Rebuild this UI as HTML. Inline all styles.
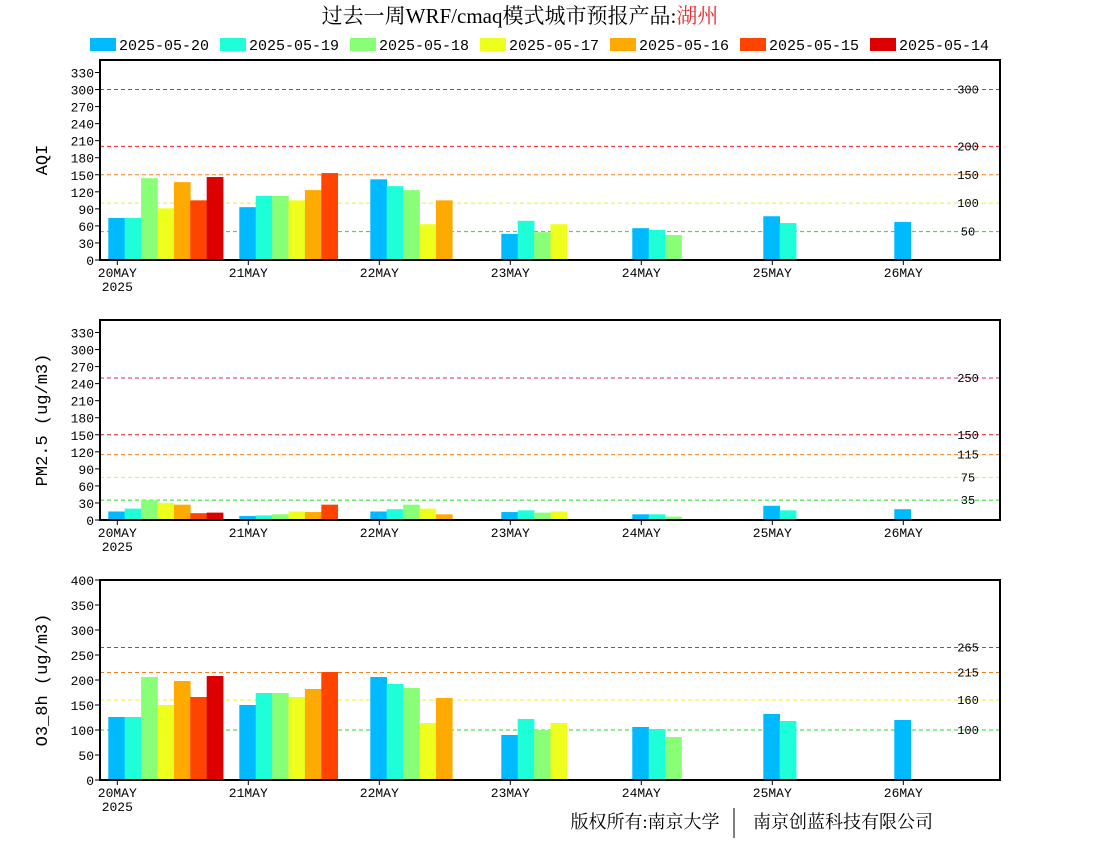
<!DOCTYPE html>
<html><head><meta charset="utf-8"><style>
body{margin:0;background:#fff;}
svg{display:block;font-family:"Liberation Mono","Noto Sans CJK SC",monospace;}
</style></head><body>
<svg id="chart" width="1100" height="850" viewBox="0 0 1100 850" xmlns="http://www.w3.org/2000/svg">
<text x="520" y="23" text-anchor="middle" font-size="21" font-family="'Liberation Serif','Noto Serif CJK SC',serif">过去一周WRF/cmaq模式城市预报产品:<tspan fill="#e83030">湖州</tspan></text>
<g id="legend"></g>
<g id="panels"></g>
<text x="645" y="828" text-anchor="middle" font-size="18" font-family="'Liberation Serif','Noto Serif CJK SC',serif">版权所有:南京大学</text>
<line x1="734" y1="808" x2="734" y2="838" stroke="#000" stroke-width="1"/>
<text x="843" y="828" text-anchor="middle" font-size="18" font-family="'Liberation Serif','Noto Serif CJK SC',serif">南京创蓝科技有限公司</text>
</svg>
<script>
const seriesNames=["2025-05-20","2025-05-19","2025-05-18","2025-05-17","2025-05-16","2025-05-15","2025-05-14"];
const seriesColors=["#00baff","#1effd9","#88ff77","#eeff1e","#ffaa00","#ff4400","#dd0000"];
const days=["20MAY","21MAY","22MAY","23MAY","24MAY","25MAY","26MAY"];
// values per series (index = day); null = no bar
const aqi=[
 [74,93,142,46,56,77,67],
 [74,113,130,69,53,65,null],
 [144,113,123,49,44,null,null],
 [91,105,63,63,null,null,null],
 [137,123,105,null,null,null,null],
 [105,153,null,null,null,null,null],
 [146,null,null,null,null,null,null]];
const pm25=[
 [15,7,15,14,10,25,19],
 [20,8,19,17,10,17,null],
 [35,10,27,13,6,null,null],
 [30,15,20,15,null,null,null],
 [27,14,10,null,null,null,null],
 [12,27,null,null,null,null,null],
 [13,null,null,null,null,null,null]];
const o3=[
 [126,150,206,90,106,132,120],
 [126,174,192,122,102,118,null],
 [206,174,184,100,86,null,null],
 [150,166,114,114,null,null,null],
 [198,182,164,null,null,null,null],
 [166,216,null,null,null,null,null],
 [208,null,null,null,null,null,null]];
const aqiTicks=[0,30,60,90,120,150,180,210,240,270,300,330];
const pmTicks=[0,30,60,90,120,150,180,210,240,270,300,330];
const o3Ticks=[0,50,100,150,200,250,300,350,400];
const aqiLines=[300,200,150,100,50];
const pmLines=[250,150,115,75,35];
const o3Lines=[265,215,160,100];
const aqiLineColors=["#c0306a","#ff2020","#f08020","#f0f020","#20dd20"];
const pmLineColors=["#e0207a","#dd2020","#f08020","#f0f020","#20dd20"];
const o3LineColors=["#ff2020","#f08020","#f0f020","#20dd20"];

const NS="http://www.w3.org/2000/svg";
function mk(tag,attrs,parent){const e=document.createElementNS(NS,tag);for(const k in attrs)e.setAttribute(k,attrs[k]);parent.appendChild(e);return e;}
const svg=document.getElementById('chart');
const lg=document.getElementById('legend');
seriesNames.forEach((n,i)=>{
 const r=mk('rect',{x:90+i*130,y:38,width:26,height:13,fill:seriesColors[i]},lg);
 
 
 const t=mk('text',{x:119,y:50,'font-size':15},lg);
 t.setAttribute('x',119+i*130);
 
 
 t.textContent=n;
});
const X0=100,X1=1000,day0=117.3,dayW=131,barW=16.4;
function xDay(d){return day0+d*dayW;}
function drawPanel(key,top,ymax,ticks,vals,lines,lineColors,title){
 const g=mk('g',{},document.getElementById('panels'));
 
 
 const bot=top+200;
 const y=v=>bot-v/ymax*200;
 lines.forEach((v,i)=>{
  const l=mk('line',{x1:X0,x2:X1,y1:y(v),y2:y(v),stroke:lineColors[i],'stroke-width':1,'stroke-dasharray':'4,3'},g);
  
  
  const t=mk('text',{x:968,y:y(v)+4,'text-anchor':'middle','font-size':12},g);
  
  
  t.textContent=v;
 });
 vals.forEach((s,si)=>s.forEach((v,d)=>{
  if(v==null)return;
  const r=mk('rect',{x:xDay(d)-9+si*barW,y:y(v),width:barW+0.3,height:bot-y(v),fill:seriesColors[si]},g);
  
  
 }));
 const f=mk('rect',{x:X0,y:top,width:X1-X0,height:200,fill:'none',stroke:'#000','stroke-width':2},g);
 
 
 ticks.forEach(v=>{
  const l=mk('line',{x1:X0-5,x2:X0,y1:y(v),y2:y(v),stroke:'#000'},g);
  
  
  const t=mk('text',{x:94,y:y(v)+5,'text-anchor':'end','font-size':13},g);
  
  
  t.textContent=v;
 });
 days.forEach((dn,d)=>{
  const l=mk('line',{x1:xDay(d),x2:xDay(d),y1:bot,y2:bot+5,stroke:'#000'},g);
  
  
  const t=mk('text',{x:xDay(d),y:bot+17,'text-anchor':'middle','font-size':13},g);
  
  
  t.textContent=dn;
 });
 const yr=mk('text',{x:xDay(0),y:bot+31,'text-anchor':'middle','font-size':13},g);
 
 
 yr.textContent='2025';
 const yt=mk('text',{x:0,y:0,'text-anchor':'middle','font-size':17,transform:'translate(47,'+(top+100)+') rotate(-90)'},g);
 
 
 yt.textContent=title;
}
drawPanel('aqi',60,352,aqiTicks,aqi,aqiLines,aqiLineColors,'AQI');
drawPanel('pm25',320,352,pmTicks,pm25,pmLines,pmLineColors,'PM2.5 (ug/m3)');
drawPanel('o3',580,400,o3Ticks,o3,o3Lines,o3LineColors,'O3_8h (ug/m3)');
</script>
</body></html>
